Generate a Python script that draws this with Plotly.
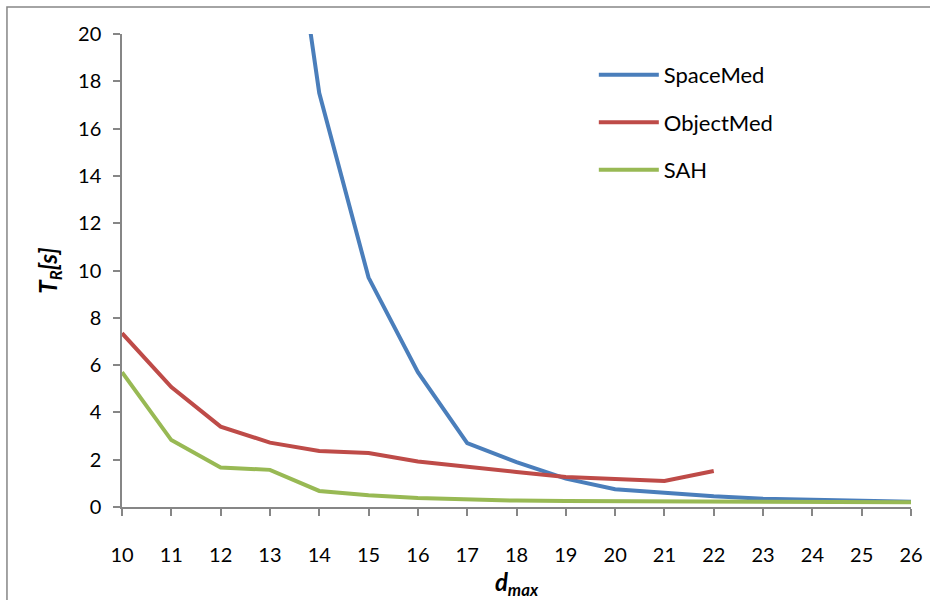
import plotly.graph_objects as go

d_max = [10, 11, 12, 13, 14, 15, 16, 17, 18, 19, 20, 21, 22, 23, 24, 25, 26]

space_x = [13, 14, 15, 16, 17, 18, 19, 20, 21, 22, 23, 24, 25, 26]
space_med = [32.0, 17.5, 9.7, 5.7, 2.7, 1.9, 1.2, 0.75, 0.6, 0.45, 0.35, 0.3, 0.27, 0.22]

object_x = [10, 11, 12, 13, 14, 15, 16, 17, 18, 19, 20, 21, 22]
object_med = [7.35, 5.07, 3.4, 2.72, 2.37, 2.28, 1.92, 1.72, 1.48, 1.27, 1.2, 1.1, 1.52]

sah = [5.7, 2.83, 1.67, 1.57, 0.68, 0.5, 0.38, 0.32, 0.27, 0.25, 0.24, 0.23, 0.22, 0.22, 0.22, 0.21, 0.2]

FONT = "Lato"
AX = "#868686"

fig = go.Figure()
fig.add_trace(go.Scatter(x=space_x, y=space_med, mode="lines", name="SpaceMed",
                         legendgroup="a", line=dict(color="#4A7EBB", width=4)))
fig.add_trace(go.Scatter(x=object_x, y=object_med, mode="lines", name="ObjectMed",
                         legendgroup="b", line=dict(color="#BE4B48", width=4)))
fig.add_trace(go.Scatter(x=d_max, y=sah, mode="lines", name="SAH",
                         legendgroup="c", line=dict(color="#98B954", width=4)))

fig.update_layout(
    width=930, height=600,
    margin=dict(l=122, r=19, t=34, b=93),
    paper_bgcolor="white", plot_bgcolor="white",
    font=dict(family=FONT, size=20, color="black"),
    showlegend=True,
    legend=dict(x=0.598, y=0.958, xanchor="left", yanchor="top",
                font=dict(size=22, family=FONT), tracegroupgap=16,
                itemwidth=60,
                bgcolor="rgba(0,0,0,0)"),
    xaxis=dict(range=[10, 26], tickmode="array", tickvals=d_max,
               ticks="outside", ticklen=7, tickcolor=AX, tickwidth=1.5,
               showline=True, linecolor=AX, linewidth=1.5, showgrid=False,
               zeroline=False, ticklabelstandoff=22, automargin=False,
               title=dict(text="<b><i>d<sub>max</sub></i></b>", font=dict(size=24), standoff=14)),
    yaxis=dict(range=[0, 20], tickvals=list(range(0, 21, 2)),
               ticks="outside", ticklen=7, tickcolor=AX, tickwidth=1.5,
               showline=True, linecolor=AX, linewidth=1.5, showgrid=False,
               zeroline=False, ticklabelstandoff=8, automargin=False,
               title=dict(text="<b><i>T<sub>R</sub>[s]</i></b>", font=dict(size=24), standoff=14)),
    shapes=[dict(type="rect", xref="paper", yref="paper",
                 x0=-0.1458, x1=1.2, y0=-0.4, y1=1.057,
                 line=dict(color=AX, width=1.5), layer="below")],
)

fig.write_html("out.html")
